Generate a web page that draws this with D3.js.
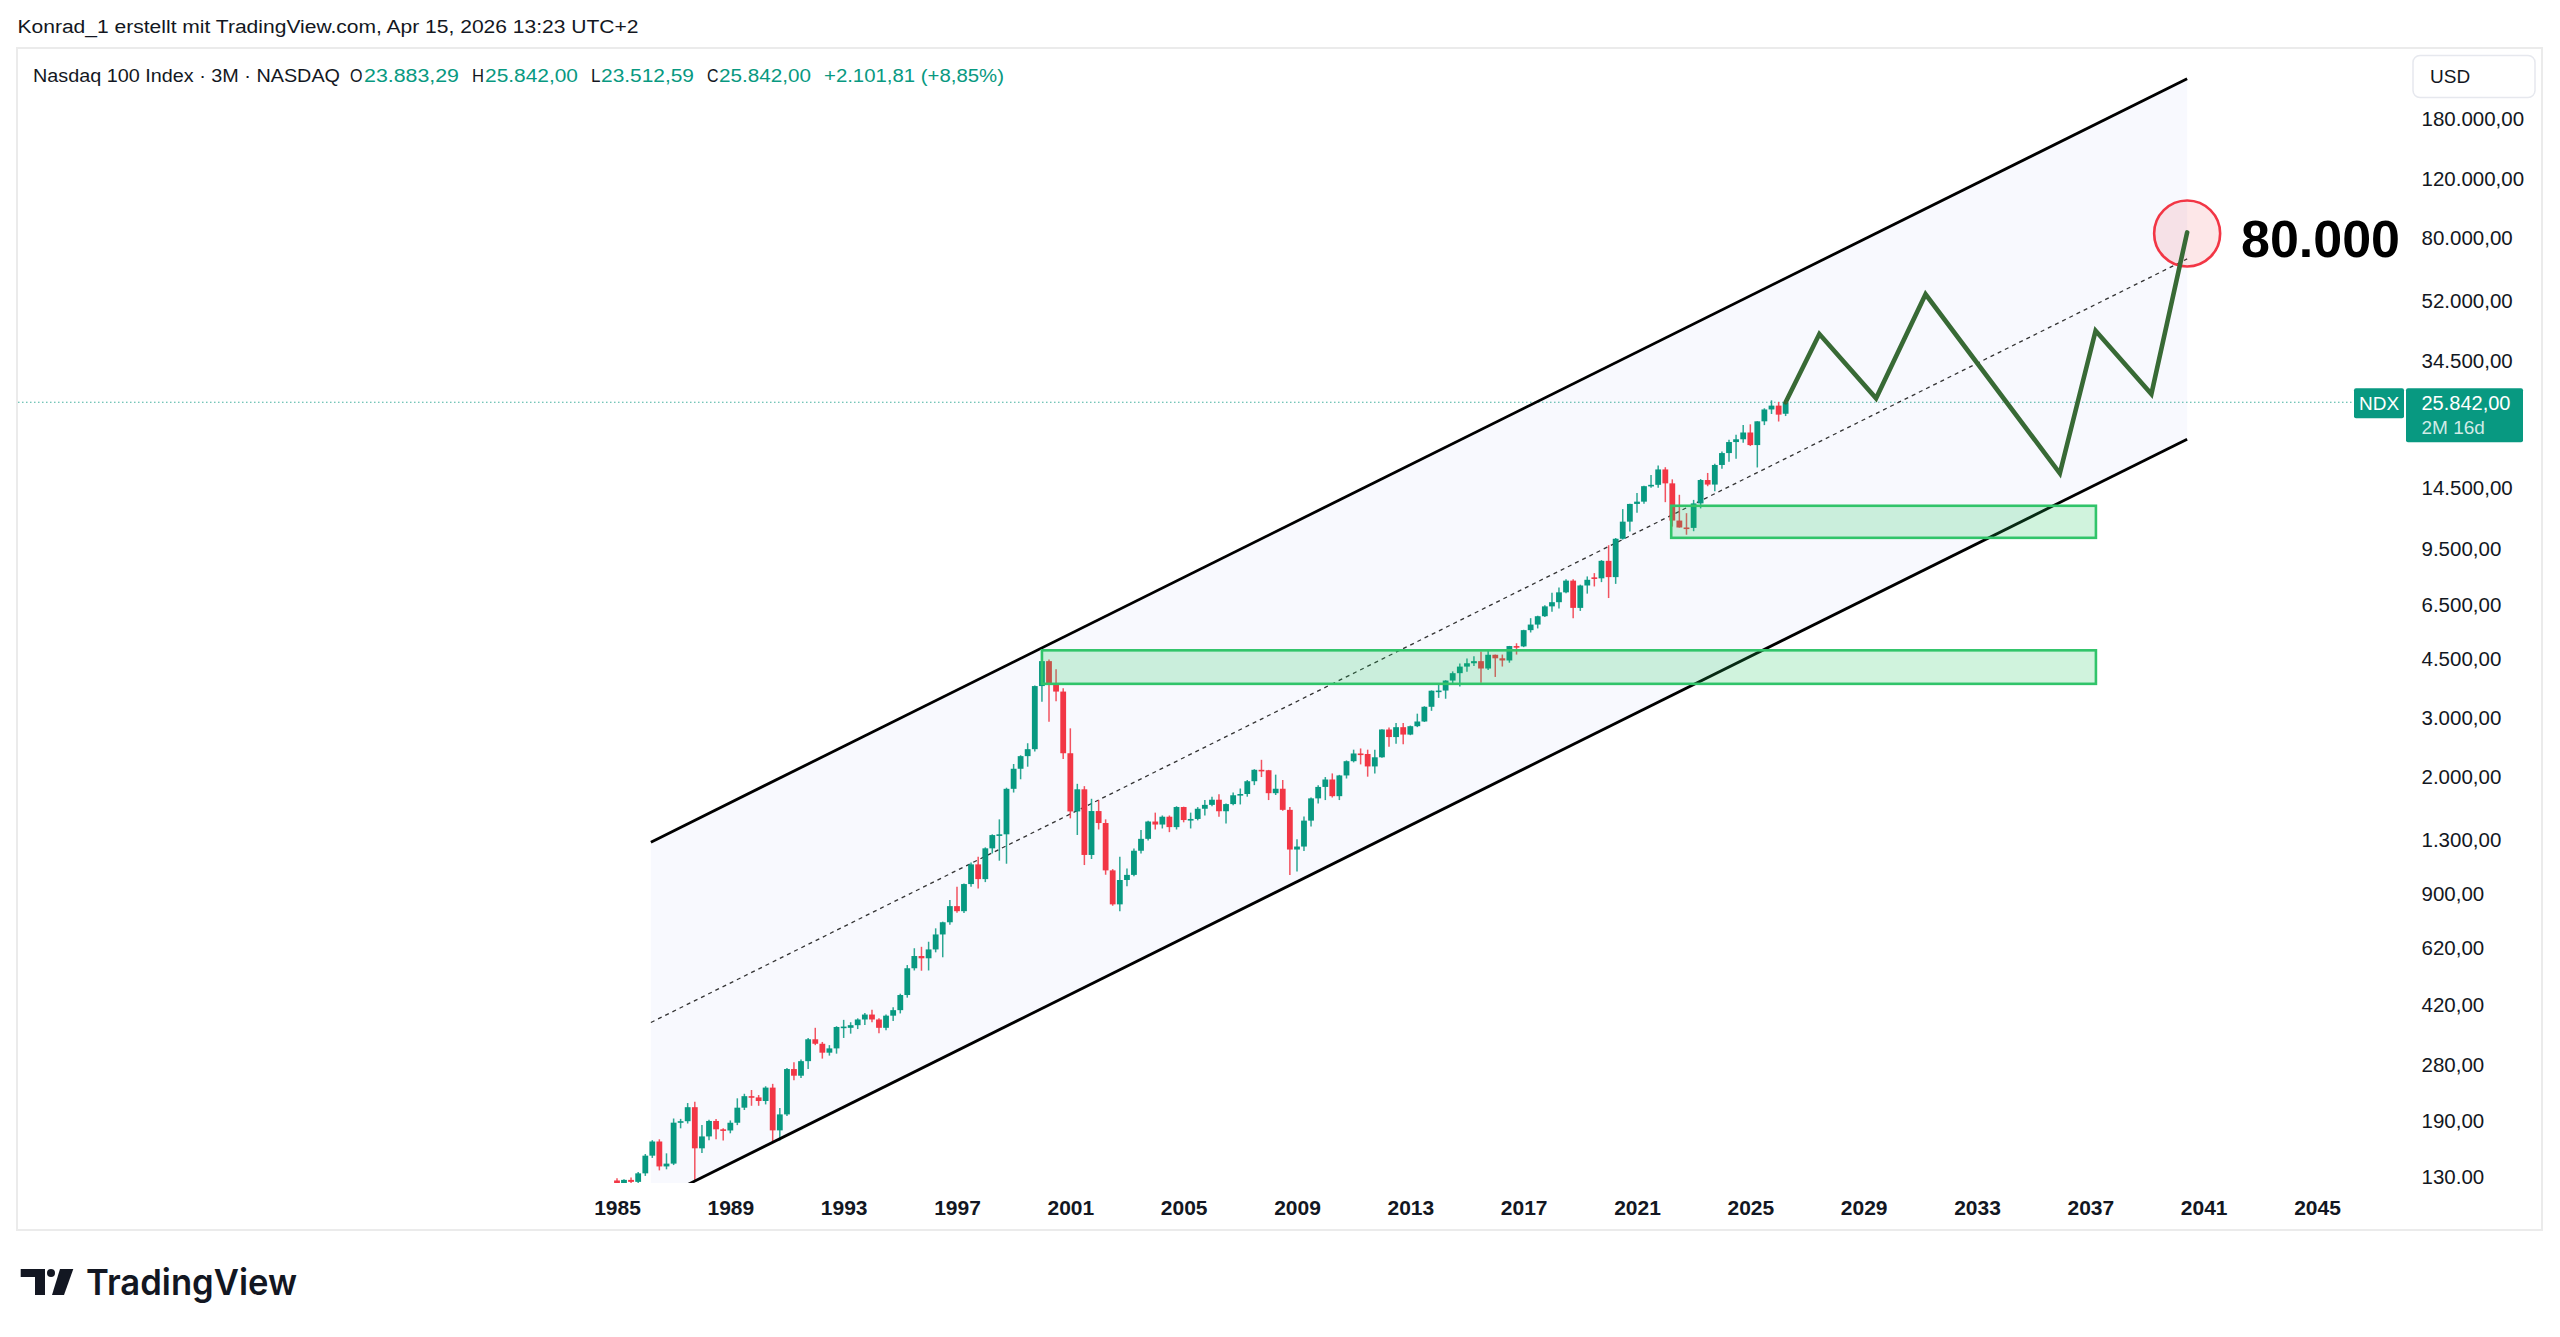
<!DOCTYPE html>
<html><head><meta charset="utf-8">
<script src="https://cdn.jsdelivr.net/npm/d3@7"></script>
<style>html,body{margin:0;padding:0;background:#fff;}svg{display:block;}</style>
</head><body>
<svg id="chart" width="2560" height="1337"></svg>
<script>
// ---------------- DATA ----------------
const firstQuarter = "1985-01-01";   // quarterly candles (3M), one entry per quarter
const opens = [
  126,123.5,126.5,124.8,  132.3,149.3,164.5,138.7,  141.4,187.1,189,208,  157,170.3,189.3,178.8,
  177.4,187,207.3,224.3,  222.4,217,237.8,177.5,  198,270,258,285,  331,321,302,311,
  360,358,364.5,379,  392,379,358,389,  404,448,538,585,  576,612,678,737,
  823,795,957,1095,  990,1222,1338,1345,  1836,2106,2296,2408,  3708,4398,3764,3571,
  2342,1573,1830,1168,  1577,1453,1051,833,  984,1019,1202,1304,  1468,1438,1517,1413,
  1621,1483,1494,1602,  1645,1704,1575,1654,  1757,1772,1934,2091,  2085,1782,1837,1590,
  1212,1237,1477,1720,  1860,1957,1746,2012,  2218,2338,2330,2140,  2278,2755,2616,2799,
  2661,2818,2910,3218,  3592,3596,3850,4050,  4236,4334,4397,4181,  4593,4484,4418,4875,
  4864,5436,5647,5979,  6396,6581,7040,7627,  6330,7378,7800,7749,  8733,7813,10156,11418,
  12888,13091,14554,14689,  16320,14838,11503,10971,  10940,12935,15179,14715,  16826,18254,19682,20060,
  21012,19278,22679,24600,  25250,23883.29
];
const highs = [
  128,127,128.5,133.5,  151,166,167,151.7,  192.5,192,214,216,  184,191,192,180,
  190,221,228,234,  226,240,244,207,  272,283,288,334,  358,325,318,362,
  378,372,382,396,  405,382,392,412,  452,550,617,623,  645,707,740,858,
  940,960,1110,1154,  1230,1345,1490,1850,  2176,2310,2508,3720,  4816,4450,4157,3650,
  2777,1900,1870,1715,  1700,1490,1060,1154,  1065,1220,1385,1475,  1560,1530,1530,1630,
  1625,1560,1620,1700,  1740,1770,1660,1790,  1840,1950,2100,2239,  2090,2023,1950,1620,
  1300,1520,1730,1880,  1990,2040,2020,2230,  2400,2420,2400,2400,  2760,2795,2880,2880,
  2830,3070,3230,3600,  3740,3860,4100,4330,  4480,4550,4700,4720,  4600,4600,4880,4970,
  5450,5900,6000,6450,  7022,7280,7700,7700,  7420,7850,8030,8780,  9718,10210,12440,12900,
  13880,14600,15700,16764,  16570,15250,13720,12100,  13250,15280,15932,16970,  18465,19980,20690,22130,
  22220,22700,24800,26180,  25900,25842
];
const lows = [
  117,118,117.5,118,  130,147,135,136,  140,180,186,125,  152,166,167,165.6,
  174,184,204,210,  210,212,164.5,165.6,  196,250,254,270,  318,290,296,300,
  334,344,355,365,  372,345,352,375,  395,440,530,529,  530,600,580,725,
  787,785,940,929,  970,1180,1123,1100,  1790,1960,2136,2370,  3332,2906,3340,2250,
  1500,1339,1090,1136,  1390,1020,825,795,  943,1010,1180,1290,  1390,1400,1365,1390,
  1460,1400,1480,1530,  1630,1517,1449,1640,  1650,1740,1883,1990,  1700,1760,1580,1018,
  1043,1200,1420,1660,  1700,1730,1700,1970,  2200,2170,1995,2040,  2270,2450,2500,2490,
  2650,2800,2900,3130,  3420,3400,3750,3700,  4090,4250,3790,4140,  3947,4238,4350,4600,
  4840,5350,5500,5950,  6165,6300,7000,5900,  6200,6978,7330,7550,  6771,7460,10100,10680,
  12140,12900,14400,14400,  13046,11037,10960,10440,  10696,12500,14550,14058,  16390,17200,17570,19600,
  19150,16542,22100,23850,  22650,23512.59
];
const closes = [
  123.5,126.5,124.8,132.3,  149.3,164.5,138.7,141.4,  187.1,189,208,157,  170.3,189.3,178.8,177.4,
  187,207.3,224.3,223.8,  217,237.8,177.5,198,  270,258,285,331,  321,302,311,360,
  361,364.5,379,392,  379,358,389,404,  448,538,585,576,  612,678,737,823,
  795,957,1095,990,  1222,1338,1345,1836,  2106,2296,2408,3708,  4398,3764,3571,2342,
  1573,1830,1168,1577,  1453,1051,833,984,  1019,1202,1304,1468,  1438,1517,1413,1621,
  1483,1494,1602,1645,  1704,1575,1654,1757,  1772,1934,2091,2085,  1782,1837,1590,1212,
  1237,1477,1720,1860,  1957,1746,2012,2218,  2338,2330,2140,2278,  2755,2616,2799,2661,
  2818,2910,3218,3592,  3596,3850,4050,4236,  4334,4397,4181,4593,  4484,4418,4875,4864,
  5436,5647,5979,6396,  6581,7040,7627,6330,  7378,7671,7749,8733,  7813,10156,11418,12888,
  13091,14554,14689,16320,  14838,11503,10971,10940,  12935,15179,14715,16826,  18254,19682,20060,21012,
  19278,22679,24600,25250,  23740.19,25842
];
const lastPrice = 25842;
const yearTicks = [1985,1989,1993,1997,2001,2005,2009,2013,2017,2021,2025,2029,2033,2037,2041,2045];
const priceTicks = [180000,120000,80000,52000,34500,14500,9500,6500,4500,3000,2000,1300,900,620,420,280,190,130];
const priceTickLabels = ["180.000,00","120.000,00","80.000,00","52.000,00","34.500,00","14.500,00","9.500,00","6.500,00","4.500,00","3.000,00","2.000,00","1.300,00","900,00","620,00","420,00","280,00","190,00","130.00"];

// parallel channel (two anchor dates, upper & lower prices)
const channelDates = ["1986-03-14","2040-06-02"];
const channelUpper = [1275, 236300];
const channelLower = [108.1, 20070];
// support zones (rectangles)
const zoneStarts = ["2000-01-01","2022-03-18"];
const zoneEnds   = ["2037-03-14","2037-03-14"];
const zoneLows   = [3765, 10222];
const zoneHighs  = [4735, 12728];
// projected path
const forecastDates  = ["2026-04-01","2027-06-10","2029-06-10","2031-03-10","2035-12-05","2037-03-10","2039-02-27","2040-06-02"];
const forecastValues = [25842, 41220, 26550, 54080, 15895, 42160, 27340, 82600];
const targetDate = "2040-06-02", targetValue = 82000, targetLabel = "80.000";

// ---------------- CHART ----------------
const parse = d3.utcParse("%Y-%m-%d");
const svg = d3.select("#chart");
const UP = "#089981", DOWN = "#f23645", TXT = "#131722";
const FONT = "'Liberation Sans', Arial, sans-serif";

const x = d3.scaleUtc().domain([new Date(Date.UTC(1985,0,1)), new Date(Date.UTC(2045,0,1))]).range([617, 2317]);
const y = d3.scaleLog().domain([130, 180000]).range([1175.9, 118.5]);

// header text
svg.append("text").attr("x",17.5).attr("y",33).attr("font-family",FONT).attr("font-size",18).attr("fill",TXT)
  .attr("textLength",621).attr("lengthAdjust","spacingAndGlyphs")
  .text("Konrad_1 erstellt mit TradingView.com, Apr 15, 2026 13:23 UTC+2");

// chart frame
svg.append("rect").attr("x",17).attr("y",48).attr("width",2525).attr("height",1182)
  .attr("fill","#fff").attr("stroke","#ebebeb").attr("stroke-width",2);

const defs = svg.append("defs");
defs.append("clipPath").attr("id","plotClip").append("rect").attr("x",18).attr("y",49).attr("width",2394).attr("height",1134);
const plot = svg.append("g").attr("clip-path","url(#plotClip)");

// channel
const cx0 = x(parse(channelDates[0])), cx1 = x(parse(channelDates[1]));
const u0 = y(channelUpper[0]), u1 = y(channelUpper[1]), l0 = y(channelLower[0]), l1 = y(channelLower[1]);
plot.append("path").attr("d", d3.line()([[cx0,u0],[cx1,u1],[cx1,l1],[cx0,l0]]) + "Z")
  .attr("fill","rgba(98,110,235,0.045)");

// last price dotted line
plot.append("line").attr("x1",18).attr("x2",2353).attr("y1",y(lastPrice)).attr("y2",y(lastPrice))
  .attr("stroke",UP).attr("stroke-width",1.2).attr("stroke-dasharray","1.5,2.5").attr("opacity",0.75);

// median dashed
plot.append("line").attr("x1",cx0).attr("y1",(u0+l0)/2).attr("x2",cx1).attr("y2",(u1+l1)/2)
  .attr("stroke","#333").attr("stroke-width",1.3).attr("stroke-dasharray","4,4");

// candles
const q0 = parse(firstQuarter);
const candles = closes.map((c,i)=>({date:d3.utcMonth.offset(q0,3*i), o:opens[i], h:highs[i], l:lows[i], c}));
const bodyW = 5.8;
const cg = plot.append("g");
cg.selectAll("line.wick").data(candles).join("line").attr("class","wick")
  .attr("x1",d=>x(d.date)).attr("x2",d=>x(d.date))
  .attr("y1",d=>y(d.h)).attr("y2",d=>y(d.l))
  .attr("stroke",d=>d.c>=d.o?UP:DOWN).attr("stroke-width",1.5).attr("opacity",0.85);
cg.selectAll("rect.body").data(candles).join("rect").attr("class","body")
  .attr("x",d=>x(d.date)-bodyW/2).attr("width",bodyW)
  .attr("y",d=>y(Math.max(d.o,d.c)))
  .attr("height",d=>Math.max(1.6, y(Math.min(d.o,d.c))-y(Math.max(d.o,d.c))))
  .attr("fill",d=>d.c>=d.o?UP:DOWN);

// channel border lines
plot.append("line").attr("x1",cx0).attr("y1",u0).attr("x2",cx1).attr("y2",u1).attr("stroke","#000").attr("stroke-width",2.8);
plot.append("line").attr("x1",cx0).attr("y1",l0).attr("x2",cx1).attr("y2",l1).attr("stroke","#000").attr("stroke-width",2.8);

// zones
zoneLows.forEach((lo,i)=>{
  const xa = x(parse(zoneStarts[i])), xb = x(parse(zoneEnds[i]));
  plot.append("rect").attr("x",xa).attr("y",y(zoneHighs[i])).attr("width",xb-xa).attr("height",y(lo)-y(zoneHighs[i]))
    .attr("fill","rgba(34,197,94,0.21)").attr("stroke","#31c46a").attr("stroke-width",2.6);
});

// target circle
plot.append("circle").attr("cx",x(parse(targetDate))).attr("cy",y(targetValue)).attr("r",33)
  .attr("fill","rgba(242,54,69,0.12)").attr("stroke","#f23645").attr("stroke-width",2.6);

// forecast path
plot.append("path").datum(forecastDates.map((d,i)=>[x(parse(d)), y(forecastValues[i])]))
  .attr("d",d3.line()).attr("fill","none").attr("stroke","#386a35").attr("stroke-width",4.6)
  .attr("stroke-linejoin","miter").attr("stroke-linecap","round");

// target label
svg.append("text").attr("x",2241).attr("y",257).attr("font-family",FONT).attr("font-weight","bold")
  .attr("font-size",52).attr("fill","#000").attr("textLength",159).attr("lengthAdjust","spacingAndGlyphs").text(targetLabel);

// x axis
const xAxis = d3.axisBottom(x).tickValues(yearTicks.map(yr=>new Date(Date.UTC(yr,0,1))))
  .tickFormat(d3.utcFormat("%Y")).tickSize(0).tickPadding(0);
const gx = svg.append("g").attr("transform","translate(0,1200)").call(xAxis);
gx.select(".domain").remove();
gx.selectAll("text").attr("font-family",FONT).attr("font-weight","bold").attr("font-size",21).attr("fill",TXT).attr("dy","0.72em");

// y axis
const yAxis = d3.axisRight(y).tickValues(priceTicks).tickFormat((d,i)=>priceTickLabels[i]).tickSize(0).tickPadding(0);
const gy = svg.append("g").attr("transform","translate(2421.5,0)").call(yAxis);
gy.select(".domain").remove();
gy.selectAll("text").attr("font-family",FONT).attr("font-size",20.5).attr("fill",TXT).attr("dy","0.36em").attr("text-anchor","start");

// USD box
svg.append("rect").attr("x",2413).attr("y",55.5).attr("width",122).attr("height",42).attr("rx",7)
  .attr("fill","#fff").attr("stroke","#e6e8ee").attr("stroke-width",1.5);
svg.append("text").attr("x",2430).attr("y",83).attr("font-family",FONT).attr("font-size",19).attr("fill",TXT).text("USD");

// last price labels
const yl = y(lastPrice);
svg.append("rect").attr("x",2354).attr("y",yl-14).attr("width",50).attr("height",30).attr("rx",2).attr("fill",UP);
svg.append("text").attr("x",2379).attr("y",yl+7.5).attr("text-anchor","middle").attr("font-family",FONT).attr("font-size",19).attr("fill","#fff").text("NDX");
svg.append("rect").attr("x",2406).attr("y",yl-14).attr("width",117).attr("height",54).attr("rx",2).attr("fill",UP);
svg.append("text").attr("x",2421.5).attr("y",yl+7.5).attr("font-family",FONT).attr("font-size",20).attr("fill","#fff").text("25.842,00");
svg.append("text").attr("x",2421.5).attr("y",yl+31.5).attr("font-family",FONT).attr("font-size",19).attr("fill","rgba(255,255,255,0.82)").text("2M 16d");

// legend
const legend = [
  ["Nasdaq 100 Index · 3M · NASDAQ",33,307,TXT],
  ["O",350,12.5,TXT],["23.883,29",364,95,UP],
  ["H",472,12,TXT],["25.842,00",485,93,UP],
  ["L",591,9.5,TXT],["23.512,59",601,93,UP],
  ["C",707,11.5,TXT],["25.842,00",719,92,UP],
  ["+2.101,81 (+8,85%)",824,180,UP]
];
legend.forEach(([t,lx,w,col])=>{
  svg.append("text").attr("x",lx).attr("y",82).attr("font-family",FONT).attr("font-size",17.5).attr("fill",col)
    .attr("textLength",w).attr("lengthAdjust","spacingAndGlyphs").text(t);
});

// TradingView logo
const logo = svg.append("g").attr("fill","#131722");
logo.append("path").attr("d","M20.7,1269 H45 V1295 H35 V1277 H20.7 Z");
logo.append("circle").attr("cx",51).attr("cy",1273).attr("r",4);
logo.append("path").attr("d","M60,1269 H73.3 L64,1295 H52 Z");
svg.append("text").attr("x",86).attr("y",1295).attr("font-family","Inter, 'Liberation Sans', sans-serif").attr("font-weight",600)
  .attr("font-size",36).attr("fill","#131722").attr("textLength",211).attr("lengthAdjust","spacingAndGlyphs").text("TradingView");
</script>
</body></html>
